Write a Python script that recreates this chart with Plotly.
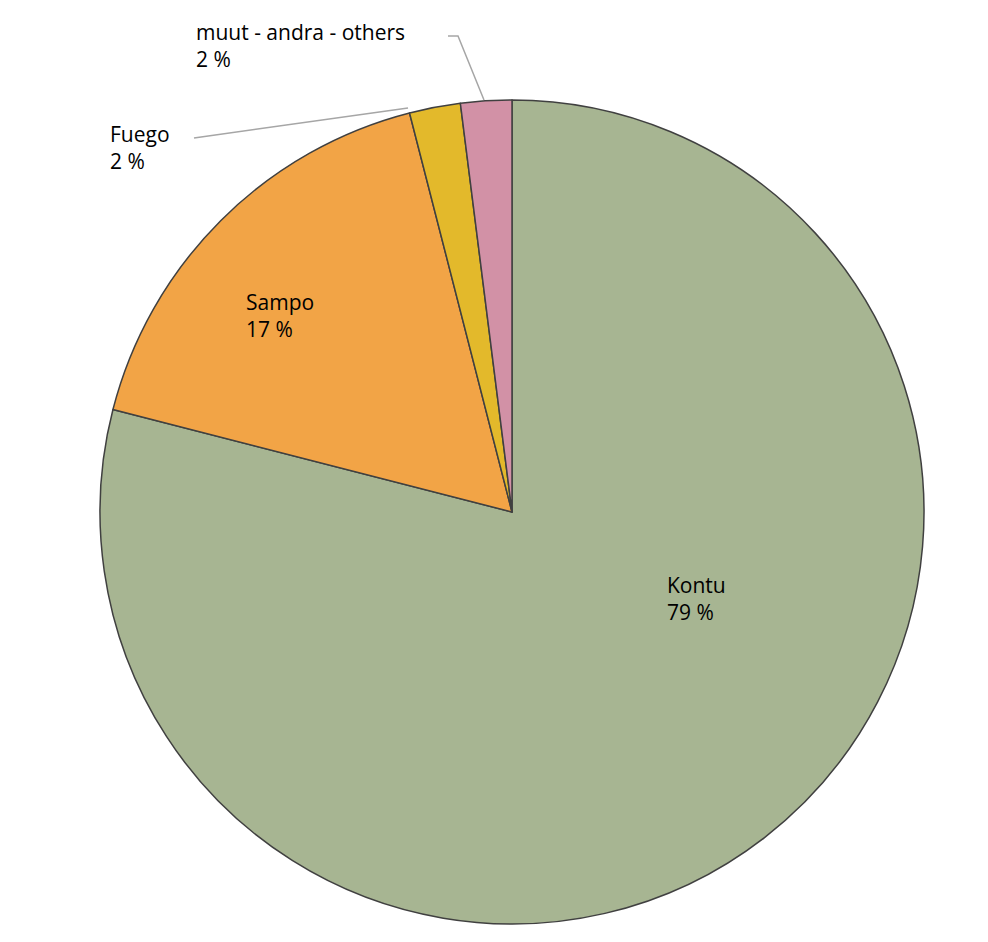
import plotly.graph_objects as go

labels = ["Kontu", "Sampo", "Fuego", "muut - andra - others"]
values = [79, 17, 2, 2]
pct_text = ["79 %", "17 %", "2 %", "2 %"]
colors = ["#A7B592", "#F2A446", "#E3B92B", "#D291A6"]

W, H = 988, 942
def px(x): return x / W
def py(y): return 1 - y / H

fig = go.Figure(go.Pie(
    labels=labels, values=values, sort=False, direction="clockwise", rotation=0,
    marker=dict(colors=colors, line=dict(color="#404040", width=1.5)),
    textinfo="none", hoverinfo="label+percent", showlegend=False,
    domain=dict(x=[px(92), px(916)], y=[py(916), py(92)]),
))

label_pos = [(657, 590), (236, 308), (100, 140), (186, 38)]
for (x, y), lab, t in zip(label_pos, labels, pct_text):
    fig.add_annotation(x=px(x), y=py(y), xref="paper", yref="paper",
                       text=f"{lab}<br>{t}", showarrow=False, align="left",
                       xanchor="left", yanchor="middle",
                       font=dict(family="Open Sans", size=21, color="#000"))

fig.add_shape(type="path", xref="paper", yref="paper",
              path=f"M {px(186)} {py(130)} L {px(400)} {py(100)}",
              line=dict(color="#A6A6A6", width=1.5))
fig.add_shape(type="path", xref="paper", yref="paper",
              path=f"M {px(440)} {py(28)} L {px(450)} {py(28)} L {px(476)} {py(92)}",
              line=dict(color="#A6A6A6", width=1.5))

fig.update_layout(width=W, height=H, margin=dict(l=0, r=0, t=0, b=0),
                  paper_bgcolor="white", plot_bgcolor="white")
fig.write_html("out.html")
